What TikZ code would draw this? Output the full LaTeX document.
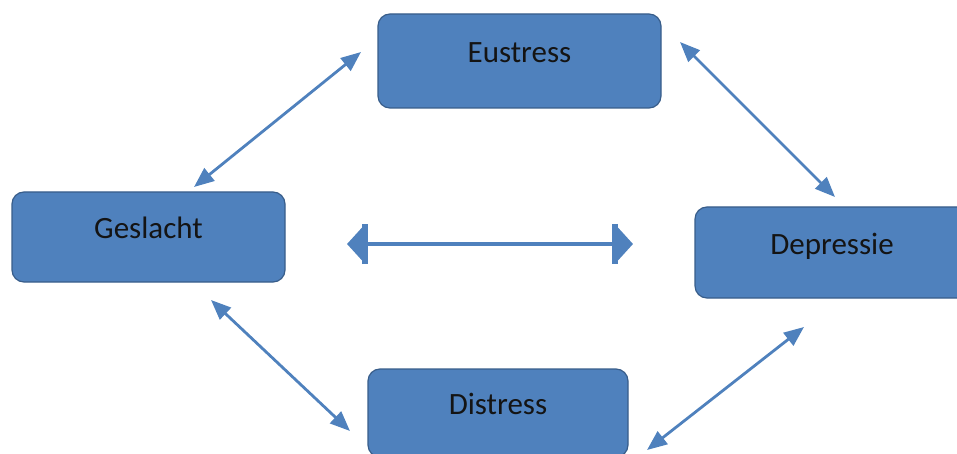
\documentclass[tikz,border=0pt]{standalone}
\usepackage{fontspec}
\setmainfont{Carlito}
\usepackage{tikz}
\usetikzlibrary{arrows.meta}
\definecolor{BoxBlue}{RGB}{79,129,189}
\definecolor{BoxEdge}{RGB}{56,93,138}
\definecolor{TextDark}{RGB}{20,20,20}
\tikzset{
  box/.style={draw=BoxEdge,line width=1.2pt,fill=BoxBlue,rounded corners=12pt,inner sep=0pt,
    text=TextDark,font=\fontsize{31}{37}\selectfont,text height=21pt,text depth=18pt},
  link/.style={draw=BoxBlue,line width=2.8pt,{Triangle[length=20pt,width=16pt]}-{Triangle[length=20pt,width=16pt]}},
}
\tikzset{mid/.style={draw=BoxBlue,line width=4pt,
  {Triangle[length=15pt,width=32pt]Bar[width=40pt,line width=6pt]}-{Bar[width=40pt,line width=6pt]Triangle[length=15pt,width=32pt]}}}

\begin{document}
\begin{tikzpicture}[x=1pt,y=-1pt]
\useasboundingbox (0,0) rectangle (957,454);
\clip (0,0) rectangle (957,454);
\node[box,minimum width=283pt,minimum height=94pt] (eus) at (519.5,61) {Eustress};
\node[box,minimum width=273pt,minimum height=90pt] (ges) at (148.5,237) {Geslacht};
\node[box,minimum width=274pt,minimum height=91pt] (dep) at (832,252.5) {Depressie};
\node[box,minimum width=260pt,minimum height=88pt] (dis) at (498,413) {Distress};
\coordinate (ge1) at (194,187);
\coordinate (ge2) at (361,52);
\coordinate (ed1) at (680,42);
\coordinate (ed2) at (835,197);
\coordinate (gd1) at (211,300);
\coordinate (gd2) at (350,431);
\coordinate (dd1) at (647,450);
\coordinate (dd2) at (804,327);
\coordinate (m1) at (347,244);
\coordinate (m2) at (633,244);
\draw[link] (ge1) -- (ge2);
\draw[link] (ed1) -- (ed2);
\draw[link] (gd1) -- (gd2);
\draw[link] (dd1) -- (dd2);
\draw[mid] (m1) -- (m2);
\end{tikzpicture}
\end{document}
